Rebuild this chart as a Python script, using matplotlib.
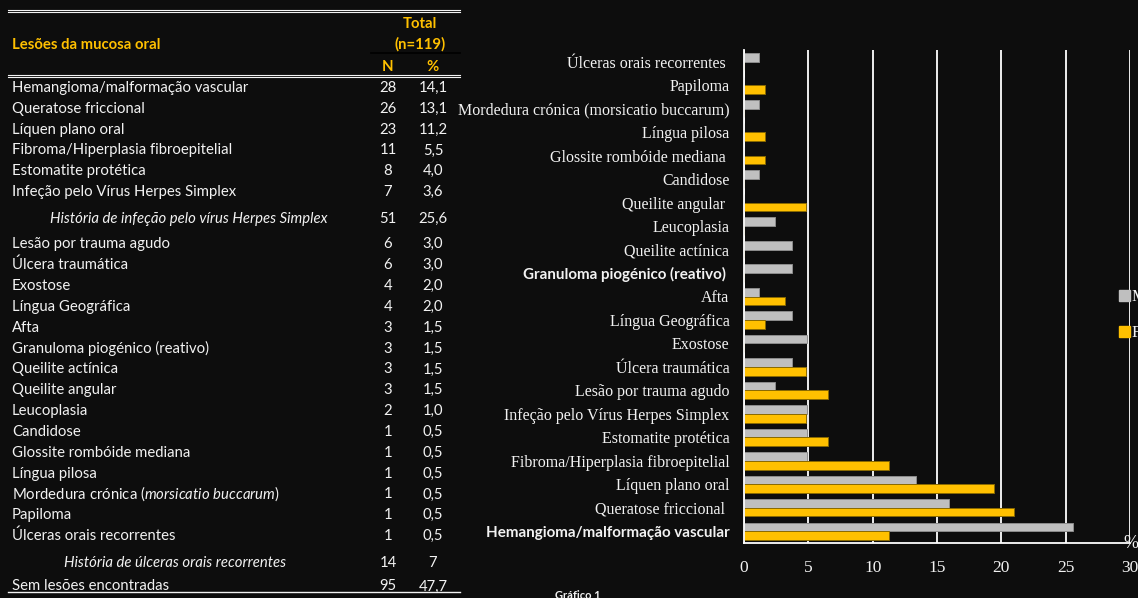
import matplotlib.pyplot as plt
from matplotlib.patches import Patch

# ── 1. Dados ──
# tabela (esquerda)
tab_lesoes = [
    'Hemangioma/malformação vascular', 'Queratose friccional', 'Líquen plano oral',
    'Fibroma/Hiperplasia fibroepitelial', 'Estomatite protética',
    'Infeção pelo Vírus Herpes Simplex',
    'História de infeção pelo vírus Herpes Simplex',
    'Lesão por trauma agudo', 'Úlcera traumática', 'Exostose', 'Língua Geográfica',
    'Afta', 'Granuloma piogénico (reativo)', 'Queilite actínica', 'Queilite angular',
    'Leucoplasia', 'Candidose', 'Glossite rombóide mediana', 'Língua pilosa',
    'Mordedura crónica (' + r'$\mathit{morsicatio\ buccarum}$' + ')',
    'Papiloma', 'Úlceras orais recorrentes',
    'História de úlceras orais recorrentes',
    'Sem lesões encontradas',
]
tab_n = ['28', '26', '23', '11', '8', '7', '51', '6', '6', '4', '4', '3', '3', '3', '3',
         '2', '1', '1', '1', '1', '1', '1', '14', '95']
tab_pct = ['14,1', '13,1', '11,2', '5,5', '4,0', '3,6', '25,6', '3,0', '3,0', '2,0', '2,0',
           '1,5', '1,5', '1,5', '1,5', '1,0', '0,5', '0,5', '0,5', '0,5', '0,5', '0,5', '7',
           '47,7']
linhas_italico = {6: 50, 22: 64}   # linha -> recuo (px)

# gráfico (direita), de baixo para cima
categorias = [
    'Hemangioma/malformação vascular', 'Queratose friccional ', 'Líquen plano oral',
    'Fibroma/Hiperplasia fibroepitelial', 'Estomatite protética',
    'Infeção pelo Vírus Herpes Simplex', 'Lesão por trauma agudo', 'Úlcera traumática',
    'Exostose', 'Língua Geográfica', 'Afta', 'Granuloma piogénico (reativo) ',
    'Queilite actínica', 'Leucoplasia', 'Queilite angular ', 'Candidose',
    'Glossite rombóide mediana ', 'Língua pilosa',
    'Mordedura crónica (morsicatio buccarum)', 'Papiloma', 'Úlceras orais recorrentes ',
]
masculino = [25.6, 15.9, 13.4, 4.9, 4.9, 4.9, 2.4, 3.7, 4.9, 3.7, 1.2, 3.7, 3.7, 2.4, 0,
             1.2, 0, 0, 1.2, 0, 1.2]
feminino = [11.3, 21.0, 19.4, 11.3, 6.5, 4.8, 6.5, 4.8, 0, 1.6, 3.2, 0, 0, 0, 4.8, 0,
            1.6, 1.6, 0, 1.6, 0]
series = ['Masculino', 'Feminino']
destaque = {'Hemangioma/malformação vascular', 'Granuloma piogénico (reativo) '}

# ── 2. Estilo ──
W, H = 1138, 598
BG = '#0d0d0d'
AMARELO = '#ffc000'
CINZA = '#bfbfbf'
BRANCO = '#f2f2f2'
SERIF = 'Liberation Serif'
SANS = 'Lato'

plt.rcParams['mathtext.fontset'] = 'custom'
plt.rcParams['mathtext.rm'] = 'Lato'
plt.rcParams['mathtext.it'] = 'Lato:italic'


def fx(x):
    return x / W


def fy(y):
    return 1 - y / H


fig = plt.figure(figsize=(W / 100, H / 100), dpi=100, facecolor=BG)

# ── 3. Tabela ──
FS = 10.75
for y in (9.5, 11.5, 74.5, 76.5):
    fig.add_artist(plt.Line2D([fx(8), fx(460)], [fy(y), fy(y)], color=BRANCO, lw=0.8))
fig.add_artist(plt.Line2D([fx(8), fx(460)], [fy(592), fy(592)], color=BRANCO, lw=1.0))
fig.add_artist(plt.Line2D([fx(371), fx(460)], [fy(53), fy(53)], color='black', lw=1.2))

fig.text(fx(420), fy(27.7), 'Total', color=AMARELO, fontsize=FS, fontweight='bold',
         family=SANS, ha='center', va='baseline')
fig.text(fx(12), fy(49), 'Lesões da mucosa oral', color=AMARELO, fontsize=FS,
         fontweight='bold', family=SANS, ha='left', va='baseline')
fig.text(fx(420), fy(49), '(n=119)', color=AMARELO, fontsize=FS, fontweight='bold',
         family=SANS, ha='center', va='baseline')
fig.text(fx(388), fy(70.7), 'N', color=AMARELO, fontsize=FS, fontweight='bold',
         family=SANS, ha='center', va='baseline')
fig.text(fx(433), fy(70.7), '%', color=AMARELO, fontsize=FS, fontweight='bold',
         family=SANS, ha='center', va='baseline')

bases = [92 + i * 20.8 for i in range(6)] + [223.3] + \
        [248.3 + j * 20.85 for j in range(15)] + [566.7, 590.5]
for i, (nome, n, pct) in enumerate(zip(tab_lesoes, tab_n, tab_pct)):
    y = fy(bases[i])
    x0 = linhas_italico.get(i, 12)
    estilo = 'italic' if i in linhas_italico else 'normal'
    fig.text(fx(x0), y, nome, color=BRANCO, fontsize=FS, family=SANS, style=estilo,
             ha='left', va='baseline')
    fig.text(fx(388), y, n, color=BRANCO, fontsize=FS, family=SANS, ha='center',
             va='baseline')
    fig.text(fx(433), y, pct, color=BRANCO, fontsize=FS, family=SANS, ha='center',
             va='baseline')

# ── 4. Gráfico de barras ──
ax = fig.add_axes([fx(744), fy(543), (1130 - 744) / W, (543 - 50) / H])
ax.set_facecolor(BG)
pos = list(range(len(categorias)))
h = 0.37
ax.barh([p + h / 2 for p in pos], masculino, height=h, color=CINZA,
        edgecolor='#8c8c8c', lw=0.7, label=series[0])
ax.barh([p - h / 2 for p in pos], feminino, height=h, color=AMARELO,
        edgecolor='#8a6a00', lw=0.7, label=series[1])

ax.set_xlim(0, 30)
ax.set_ylim(-0.5, len(categorias) - 0.5)
ax.set_xticks(range(0, 31, 5))
ax.set_yticks(pos)
ax.set_yticklabels(categorias)
ax.xaxis.grid(True, color='white', lw=1.3)
ax.set_axisbelow(True)
for s in ('top', 'right'):
    ax.spines[s].set_visible(False)
for s in ('left', 'bottom'):
    ax.spines[s].set_color('white')
    ax.spines[s].set_linewidth(1.3)
ax.tick_params(axis='x', length=0, pad=12, labelsize=12.5, labelcolor=BRANCO)
ax.tick_params(axis='y', length=0, pad=10.5, labelsize=11.5, labelcolor=BRANCO)
for lbl in ax.get_xticklabels():
    lbl.set_fontfamily(SERIF)
for lbl in ax.get_yticklabels():
    if lbl.get_text() in destaque:
        lbl.set_fontfamily(SANS)
        lbl.set_fontweight('bold')
        lbl.set_fontsize(10.9)
    else:
        lbl.set_fontfamily(SERIF)

fig.text(fx(1131), fy(543), '%', color=BRANCO, fontsize=13, family=SERIF,
         ha='center', va='center')
fig.legend(handles=[Patch(color=CINZA), Patch(color=AMARELO)], labels=series,
           loc='upper left', bbox_to_anchor=(fx(1104), fy(274)), frameon=False,
           handlelength=0.65, handleheight=0.65, handletextpad=0.1, labelspacing=1.2,
           prop={'family': SERIF, 'size': 12}, labelcolor=BRANCO)
fig.text(fx(578), fy(590), 'Gráfico 1', color=BRANCO, fontsize=8, fontweight='bold',
         family=SANS, ha='center', va='top')

plt.savefig('out.png', dpi=100, facecolor=BG)
